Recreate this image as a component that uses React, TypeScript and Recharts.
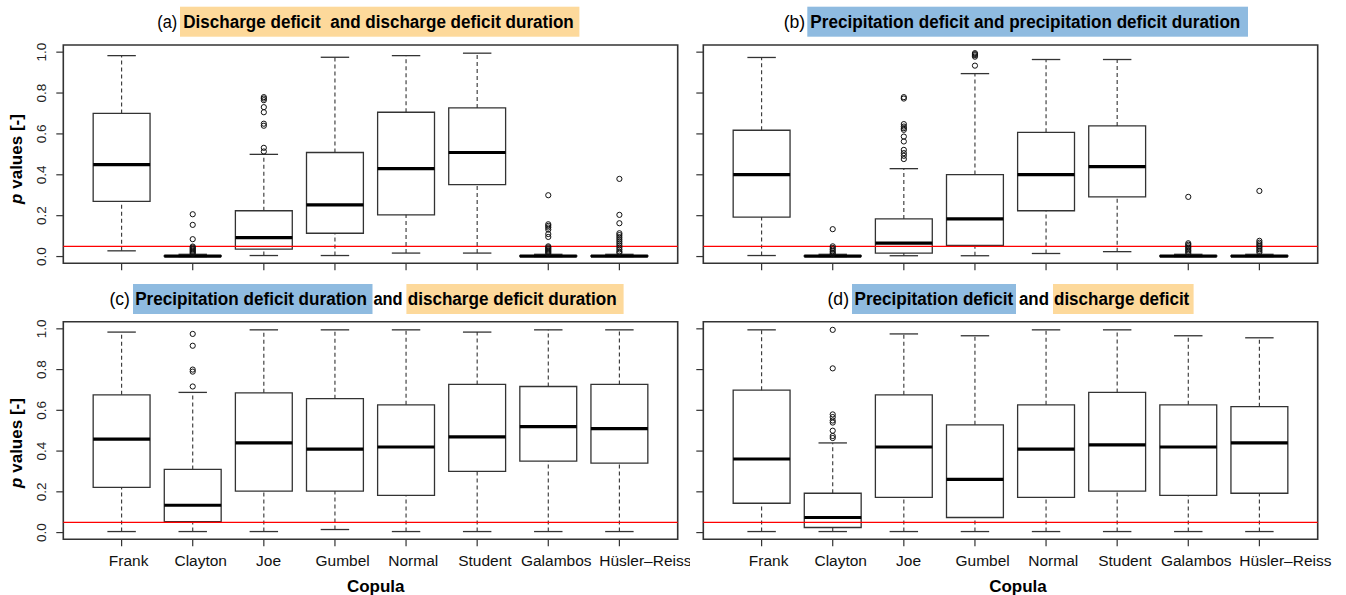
import React from "react";
import {
  ComposedChart,
  XAxis,
  YAxis,
  ReferenceArea,
  ReferenceLine,
  Scatter,
} from "recharts";

// ---------- data ----------
const copulas = ["Frank", "Clayton", "Joe", "Gumbel", "Normal", "Student", "Galambos", "Hüsler–Reiss"];
const copulaPositions = [1, 2, 3, 4, 5, 6, 7, 8];
const yTicks = [0, 0.2, 0.4, 0.6, 0.8, 1.0];
const yTickLabels = ["0.0", "0.2", "0.4", "0.6", "0.8", "1.0"];
const significance = 0.05;

// rows: [lower whisker, Q1, median, Q3, upper whisker]
const boxA = [
  [0.028, 0.27, 0.45, 0.70, 0.983],
  [0, 0.0005, 0.002, 0.005, 0.011],
  [0.005, 0.036, 0.093, 0.224, 0.5],
  [0.005, 0.114, 0.253, 0.509, 0.975],
  [0.017, 0.204, 0.43, 0.706, 0.983],
  [0.017, 0.352, 0.509, 0.727, 0.995],
  [0, 0.0005, 0.002, 0.005, 0.011],
  [0, 0.0005, 0.002, 0.005, 0.011],
];
const outA = [
  [],
  [0.207, 0.155, 0.085, 0.049, 0.044, 0.039, 0.034, 0.029, 0.024, 0.019, 0.014],
  [0.78, 0.773, 0.765, 0.731, 0.706, 0.65, 0.64, 0.532, 0.514],
  [],
  [],
  [],
  [0.3, 0.158, 0.15, 0.142, 0.132, 0.11, 0.096, 0.05, 0.045, 0.04, 0.035, 0.03, 0.025, 0.02, 0.015],
  [0.38, 0.204, 0.163, 0.114, 0.105, 0.095, 0.085, 0.075, 0.065, 0.055, 0.045, 0.035, 0.025, 0.018],
];

const boxB = [
  [0.005, 0.193, 0.401, 0.618, 0.974],
  [0, 0.0005, 0.002, 0.005, 0.011],
  [0.004, 0.017, 0.066, 0.184, 0.43],
  [0.004, 0.054, 0.184, 0.401, 0.895],
  [0.015, 0.224, 0.401, 0.608, 0.964],
  [0.024, 0.292, 0.44, 0.639, 0.964],
  [0, 0.0005, 0.002, 0.005, 0.011],
  [0, 0.0005, 0.002, 0.005, 0.011],
];
const outB = [
  [],
  [0.134, 0.05, 0.042, 0.034, 0.026, 0.018, 0.012],
  [0.78, 0.773, 0.648, 0.636, 0.628, 0.62, 0.587, 0.563, 0.522, 0.506, 0.493, 0.477],
  [0.995, 0.99, 0.985, 0.978, 0.934],
  [],
  [],
  [0.292, 0.065, 0.058, 0.051, 0.044, 0.037, 0.03, 0.023, 0.016],
  [0.321, 0.077, 0.068, 0.06, 0.052, 0.044, 0.036, 0.028, 0.02],
];

const boxC = [
  [0.005, 0.222, 0.459, 0.676, 0.984],
  [0.005, 0.054, 0.134, 0.31, 0.688],
  [0.005, 0.203, 0.44, 0.686, 0.995],
  [0.015, 0.203, 0.41, 0.657, 0.995],
  [0.005, 0.183, 0.42, 0.627, 0.995],
  [0.005, 0.3, 0.47, 0.727, 0.984],
  [0.005, 0.351, 0.52, 0.717, 0.995],
  [0.005, 0.341, 0.51, 0.727, 0.995],
];
const outC = [[], [0.975, 0.917, 0.8, 0.79, 0.717], [], [], [], [], [], []];

const boxD = [
  [0.005, 0.144, 0.361, 0.699, 0.995],
  [0.005, 0.025, 0.074, 0.193, 0.44],
  [0.005, 0.173, 0.42, 0.676, 0.975],
  [0.005, 0.074, 0.261, 0.529, 0.966],
  [0.005, 0.173, 0.41, 0.627, 0.995],
  [0.005, 0.203, 0.43, 0.688, 0.995],
  [0.005, 0.183, 0.42, 0.627, 0.966],
  [0.005, 0.193, 0.44, 0.618, 0.956],
];
const outD = [[], [0.995, 0.806, 0.58, 0.567, 0.55, 0.54, 0.5, 0.474, 0.464], [], [], [], [], [], []];

// ---------- layout / style ----------
const X_DOMAIN: [number, number] = [0.18, 8.82];
const Y_DOMAIN: [number, number] = [-0.033, 1.035];
const BOX_HALF = 0.4;
const CAP_HALF = 0.2;
const labelDx = [7, 8, 4.7, 7.7, 7.2, 7.7, 8, 26];
const SANS = "'Liberation Sans', Arial, Helvetica, sans-serif";
const NARROW = "'Liberation Sans Narrow', 'Arial Narrow', 'Liberation Sans', Arial, sans-serif";
const ORANGE = "#FDD99B";
const BLUE = "#8FBBE0";
const INK = "#333333";

type Layout = {
  left: number;
  top: number;
  width: number;
  height: number;
  yAxisW: number;
  mRight: number;
  mTop: number;
  xAxisH: number;
};

const layoutA: Layout = { left: 0, top: 0, width: 690, height: 290, yAxisW: 63.3, mRight: 12.3, mTop: 45, xAxisH: 26.7 };
const layoutB: Layout = { left: 690, top: 0, width: 656, height: 290, yAxisW: 13.3, mRight: 28.3, mTop: 45, xAxisH: 26.7 };
const layoutC: Layout = { left: 0, top: 290, width: 690, height: 305, yAxisW: 63.3, mRight: 12.3, mTop: 31.7, xAxisH: 55.7 };
const layoutD: Layout = { left: 690, top: 290, width: 656, height: 305, yAxisW: 13.3, mRight: 28.3, mTop: 31.7, xAxisH: 55.7 };

const EmptyTick = () => <g />;

const XTick = (props: any) => {
  const { x, y, payload } = props;
  const idx = Math.round(payload.value) - 1;
  return (
    <text
      x={x + (labelDx[idx] ?? 0)}
      y={y + 17.4}
      textAnchor="middle"
      fontFamily={SANS}
      fontSize={15.5}
      fill="#111"
    >
      {copulas[idx]}
    </text>
  );
};

const YTick = (props: any) => {
  const { x, y, payload } = props;
  const bx = x - 8.6;
  const i = yTicks.indexOf(payload.value);
  return (
    <text
      x={bx}
      y={y}
      transform={`rotate(-90 ${bx} ${y})`}
      textAnchor="middle"
      fontFamily={SANS}
      fontSize={13.5}
      fill="#222"
    >
      {i >= 0 ? yTickLabels[i] : payload.value}
    </text>
  );
};

const OutlierShape = (props: any) => (
  <circle cx={props.cx} cy={props.cy} r={2.6} fill="none" stroke="#111" strokeWidth={1} />
);

function Panel({
  box,
  out,
  layout,
  showX,
  showY,
}: {
  box: number[][];
  out: number[][];
  layout: Layout;
  showX: boolean;
  showY: boolean;
}) {
  const points = out.flatMap((vals, i) => vals.map((v) => ({ x: copulaPositions[i], y: v })));
  return (
    <div style={{ position: "absolute", left: layout.left, top: layout.top }}>
      <ComposedChart
        width={layout.width}
        height={layout.height}
        margin={{ top: layout.mTop, right: layout.mRight, bottom: 0, left: 0 }}
      >
        <XAxis
          type="number"
          dataKey="x"
          domain={X_DOMAIN}
          ticks={copulaPositions}
          interval={0}
          allowDataOverflow
          height={layout.xAxisH}
          axisLine={false}
          tickLine={{ stroke: INK, strokeWidth: 1.2 }}
          tickSize={7}
          tickMargin={2}
          tick={showX ? XTick : EmptyTick}
        />
        <YAxis
          type="number"
          dataKey="y"
          domain={Y_DOMAIN}
          ticks={yTicks}
          interval={0}
          allowDataOverflow
          width={layout.yAxisW}
          axisLine={false}
          tickLine={{ stroke: INK, strokeWidth: 1.2 }}
          tickSize={7}
          tickMargin={2}
          tick={showY ? YTick : EmptyTick}
        />
        {box.map((s, i) => {
          const c = copulaPositions[i];
          return (
            <ReferenceArea
              key={`box${i}`}
              x1={c - BOX_HALF}
              x2={c + BOX_HALF}
              y1={s[1]}
              y2={s[3]}
              fill="#ffffff"
              fillOpacity={1}
              stroke={INK}
              strokeWidth={1.3}
              ifOverflow="visible"
            />
          );
        })}
        {box.map((s, i) => {
          const c = copulaPositions[i];
          return [
            <ReferenceLine
              key={`wl${i}`}
              segment={[{ x: c, y: s[0] }, { x: c, y: s[1] }]}
              stroke={INK}
              strokeWidth={1.1}
              strokeDasharray="4 3"
              ifOverflow="visible"
            />,
            <ReferenceLine
              key={`wh${i}`}
              segment={[{ x: c, y: s[3] }, { x: c, y: s[4] }]}
              stroke={INK}
              strokeWidth={1.1}
              strokeDasharray="4 3"
              ifOverflow="visible"
            />,
            <ReferenceLine
              key={`cl${i}`}
              segment={[{ x: c - CAP_HALF, y: s[0] }, { x: c + CAP_HALF, y: s[0] }]}
              stroke={INK}
              strokeWidth={1.3}
              ifOverflow="visible"
            />,
            <ReferenceLine
              key={`ch${i}`}
              segment={[{ x: c - CAP_HALF, y: s[4] }, { x: c + CAP_HALF, y: s[4] }]}
              stroke={INK}
              strokeWidth={1.3}
              ifOverflow="visible"
            />,
            <ReferenceLine
              key={`md${i}`}
              segment={[{ x: c - BOX_HALF, y: s[2] }, { x: c + BOX_HALF, y: s[2] }]}
              stroke="#000"
              strokeWidth={3.2}
              ifOverflow="visible"
            />,
          ];
        })}
        <ReferenceLine y={significance} stroke="#ff0000" strokeWidth={1.3} ifOverflow="visible" />
        <ReferenceArea
          x1={X_DOMAIN[0]}
          x2={X_DOMAIN[1]}
          y1={Y_DOMAIN[0]}
          y2={Y_DOMAIN[1]}
          fill="none"
          fillOpacity={0}
          stroke={INK}
          strokeWidth={1.6}
          ifOverflow="visible"
        />
        <Scatter data={points} dataKey="y" isAnimationActive={false} shape={OutlierShape} />
      </ComposedChart>
    </div>
  );
}

// one title = one <text>, each part a tspan fitted to its measured width;
// set at 17px and stretched vertically to the reference's taller glyphs
type Part = { x: number; w: number; t: string; bold?: boolean };
const TITLE_SIZE = 17;
const TITLE_STRETCH = 1.09;

const Title = ({ y, parts }: { y: number; parts: Part[] }) => (
  <text
    y={y}
    fontFamily={NARROW}
    fontSize={TITLE_SIZE}
    fill="#000"
    style={{ whiteSpace: "pre" }}
    transform={`translate(0 ${y}) scale(1 ${TITLE_STRETCH}) translate(0 ${-y})`}
  >
    {parts.map((p, i) => (
      <tspan
        key={i}
        x={p.x}
        y={y}
        textLength={p.w}
        lengthAdjust="spacingAndGlyphs"
        fontWeight={p.bold === false ? "normal" : "bold"}
      >
        {p.t}
      </tspan>
    ))}
  </text>
);

function Overlay() {
  const top = 28.4;
  const bot = 305.5;
  return (
    <svg
      width={1346}
      height={595}
      style={{ position: "absolute", left: 0, top: 0, pointerEvents: "none" }}
    >
      {/* highlight boxes */}
      <rect x={180} y={6.7} width={399.4} height={30} fill={ORANGE} />
      <rect x={807.3} y={6.7} width={440.7} height={30} fill={BLUE} />
      <rect x={133} y={284} width={239.5} height={30} fill={BLUE} />
      <rect x={406.4} y={284} width={217.2} height={30} fill={ORANGE} />
      <rect x={852} y={284} width={164} height={30} fill={BLUE} />
      <rect x={1053} y={284} width={140.6} height={30} fill={ORANGE} />

      <Title
        y={top}
        parts={[
          { x: 157.3, w: 20, t: "(a)", bold: false },
          { x: 183.3, w: 390.5, t: "Discharge deficit  and discharge deficit duration" },
        ]}
      />
      <Title
        y={top}
        parts={[
          { x: 783.7, w: 21.5, t: "(b)", bold: false },
          { x: 810.3, w: 430, t: "Precipitation deficit and precipitation deficit duration" },
        ]}
      />
      <Title
        y={bot}
        parts={[
          { x: 109.4, w: 20.5, t: "(c)", bold: false },
          { x: 135.2, w: 231.8, t: "Precipitation deficit duration" },
          { x: 373.4, w: 29.2, t: "and" },
          { x: 407.7, w: 209, t: "discharge deficit duration" },
        ]}
      />
      <Title
        y={bot}
        parts={[
          { x: 827.5, w: 21.5, t: "(d)", bold: false },
          { x: 854.5, w: 158.8, t: "Precipitation deficit" },
          { x: 1019, w: 30, t: "and" },
          { x: 1054, w: 135.3, t: "discharge deficit" },
        ]}
      />

      {/* y labels */}
      {[159, 443].map((cy) => (
        <text
          key={cy}
          x={21.5}
          y={cy}
          transform={`rotate(-90 21.5 ${cy})`}
          textAnchor="middle"
          fontFamily={SANS}
          fontWeight="bold"
          fontSize={17}
          fill="#000"
        >
          <tspan fontStyle="italic">p</tspan> values [-]
        </text>
      ))}

      {/* x labels */}
      {[375.7, 1018].map((cx) => (
        <text
          key={cx}
          x={cx}
          y={591.5}
          textAnchor="middle"
          fontFamily={SANS}
          fontWeight="bold"
          fontSize={17}
          fill="#000"
        >
          Copula
        </text>
      ))}
    </svg>
  );
}

export default function App() {
  return (
    <div
      style={{
        position: "absolute",
        left: 0,
        top: 0,
        width: 1346,
        height: 595,
        background: "#ffffff",
        overflow: "hidden",
      }}
    >
      <Panel box={boxA} out={outA} layout={layoutA} showX={false} showY={true} />
      <Panel box={boxB} out={outB} layout={layoutB} showX={false} showY={false} />
      <Panel box={boxC} out={outC} layout={layoutC} showX={true} showY={true} />
      <Panel box={boxD} out={outD} layout={layoutD} showX={true} showY={false} />
      <Overlay />
    </div>
  );
}
